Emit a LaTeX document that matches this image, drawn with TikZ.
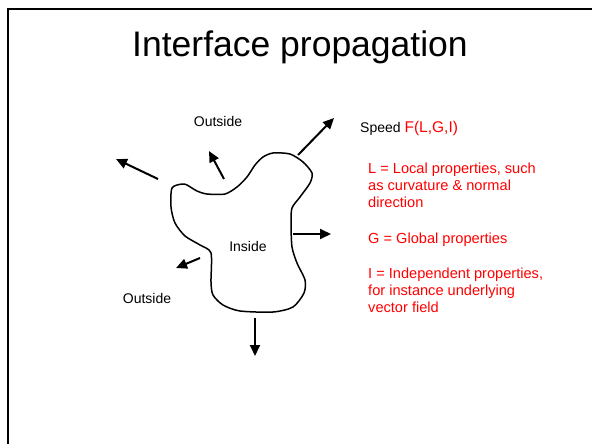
\documentclass[tikz,border=0pt]{standalone}
\usepackage{fontspec}
\setmainfont{Liberation Sans}
\usetikzlibrary{arrows.meta}
\definecolor{speedred}{RGB}{255,0,0}
\tikzset{
  label/.style={inner sep=0pt, anchor=base, font=\fontsize{14}{17}\selectfont},
  redtext/.style={inner sep=0pt, anchor=base west, text=speedred,
    font=\fontsize{14.6}{17}\selectfont},
  normal/.style={line width=2pt, -{Triangle[length=11pt,width=10pt]}},
  outline/.style={line width=1.5pt, line join=round},
}
\begin{document}
\begin{tikzpicture}[x=1pt,y=-1pt]
  \useasboundingbox (0,0) rectangle (592,444);
  % slide frame
  \draw[line width=2pt] (7.5,450) -- (7.5,9.5) -- (600,9.5);

  % title
  \node[inner sep=0pt, anchor=base, font=\fontsize{35.5}{40}\selectfont] (title) at (300,57) {Interface propagation};

  % the interface
  \draw[outline] plot[smooth cycle, tension=0.45] coordinates {
    (172,188) (182,184) (187,185) (197,191) (207,194) (225,194) (237,187)
    (247,177) (255,165) (263,157) (273,153) (290,154) (303,162) (312,173)
    (310,183) (300,197) (292,208) (291,223) (292,247) (297,263) (305,280)
    (304,293) (293,307) (273,312) (240,311) (223,305) (213,295) (211,282)
    (211,253) (200,245) (185,236) (175,223) (171,207)};

  % labels
  \node[label] (outtop) at (218,126) {Outside};
  \node[label] (outbot) at (147,303) {Outside};
  \node[label] (inside) at (248,251) {Inside};

  \node[inner sep=0pt, anchor=base west, font=\fontsize{14}{17}\selectfont] (speed) at (360,132)
    {Speed \textcolor{speedred}{\fontsize{15.5}{17}\selectfont F(L,G,I)}};

  % the three kinds of speed dependence
  \node[redtext] (local1) at (368,173) {L = Local properties, such};
  \node[redtext] (local2) at (368,190) {as curvature \& normal};
  \node[redtext] (local3) at (368,207) {direction};
  \node[redtext] (global) at (368,243) {G = Global properties};
  \node[redtext] (indep1) at (368,278) {I = Independent properties,};
  \node[redtext] (indep2) at (368,295) {for instance underlying};
  \node[redtext] (indep3) at (368,312) {vector field};

  % normal speed arrows
  \coordinate (a1s) at (298,155); \coordinate (a1e) at (334,118);
  \coordinate (a2s) at (158,179); \coordinate (a2e) at (116,159);
  \coordinate (a3s) at (224,179); \coordinate (a3e) at (209,151);
  \coordinate (a4s) at (293,234); \coordinate (a4e) at (331,234);
  \coordinate (a5s) at (200,258); \coordinate (a5e) at (176,268);
  \coordinate (a6s) at (255,318); \coordinate (a6e) at (255,356);
  \draw[normal] (a1s) -- (a1e);
  \draw[normal] (a2s) -- (a2e);
  \draw[normal] (a3s) -- (a3e);
  \draw[normal] (a4s) -- (a4e);
  \draw[normal] (a5s) -- (a5e);
  \draw[normal] (a6s) -- (a6e);
\end{tikzpicture}
\end{document}
